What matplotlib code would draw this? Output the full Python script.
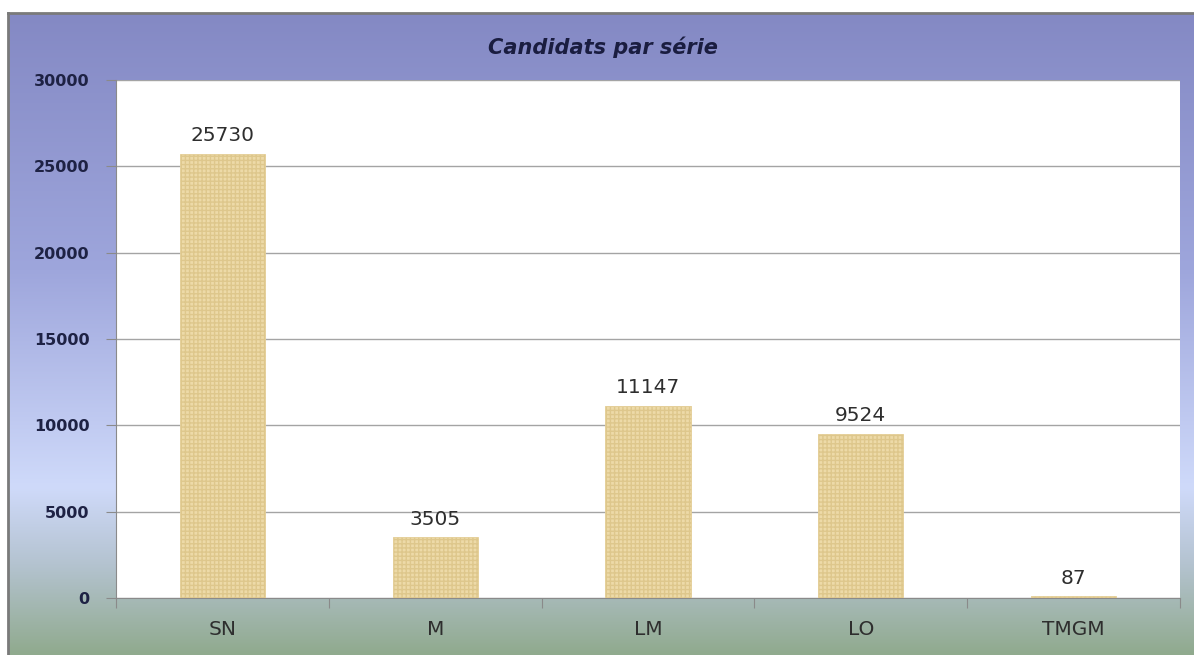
"""
Candidats par série - bar chart
"""

import numpy as np
import matplotlib
matplotlib.use('Agg')
import matplotlib.pyplot as plt
from matplotlib.colors import LinearSegmentedColormap

# Chart data
categories = ['SN', 'M', 'LM', 'LO', 'TMGM']
candidates = [25730, 3505, 11147, 9524, 87]
y_ticks = [0, 5000, 10000, 15000, 20000, 25000, 30000]
title = 'Candidats par série'


def main():
    """Draw the chart and save it"""
    fig = plt.figure(figsize=(11.94, 6.55), dpi=100)
    fig.patch.set_facecolor('white')

    # Gradient background of the chart frame
    bg = fig.add_axes([8 / 1194, 0, 1 - 8 / 1194, 1 - 13 / 655])
    stops = [(0.0, '#8489C4'), (0.40, '#9EA6DC'), (0.74, '#CFDAFA'),
             (0.86, '#B4C3D0'), (1.0, '#90AA8E')]
    cmap = LinearSegmentedColormap.from_list('bg', stops)
    grad = np.linspace(0, 1, 256).reshape(-1, 1)
    bg.imshow(grad, aspect='auto', cmap=cmap, extent=[0, 1, 0, 1])
    bg.set_xticks([])
    bg.set_yticks([])
    for side in ['right', 'bottom']:
        bg.spines[side].set_visible(False)
    for side in ['left', 'top']:
        bg.spines[side].set_color('#7a7a7a')
        bg.spines[side].set_linewidth(2)

    # Plot area
    ax = fig.add_axes([116 / 1194, 1 - 598 / 655, 1064 / 1194, 518 / 655])
    ax.set_facecolor('white')
    x = np.arange(len(categories))
    bars = ax.bar(x, candidates, width=0.4, color='#EDDAA8',
                  edgecolor='#E4CE96', linewidth=0.6, hatch='++++', zorder=3)
    for b in bars:
        b._hatch_color = matplotlib.colors.to_rgba('#DEC78C')
    ax.set_xlim(-0.5, len(categories) - 0.5)
    ax.set_ylim(0, 30000)
    ax.set_yticks(y_ticks)
    ax.set_yticklabels([str(v) for v in y_ticks], fontweight='bold',
                       fontsize=11.5, color='#1e2244')
    ax.yaxis.grid(True, color='#a4a4a4', linewidth=1)
    ax.set_axisbelow(True)
    ax.tick_params(axis='y', length=7, color='#8a8a8a', pad=12)

    # Category labels centered, ticks on the boundaries
    ax.set_xticks(np.arange(len(categories) + 1) - 0.5)
    ax.set_xticklabels([])
    ax.set_xticks(x, minor=True)
    ax.set_xticklabels(categories, minor=True, fontsize=14.5, color='#2e2e2e')
    ax.tick_params(axis='x', which='major', length=7, color='#8a8a8a')
    ax.tick_params(axis='x', which='minor', length=0, pad=16)

    for side in ['top', 'right']:
        ax.spines[side].set_visible(False)
    ax.spines['left'].set_color('#8a8a8a')
    ax.spines['bottom'].set_color('#8a8a8a')

    # Value labels
    for xi, v in zip(x, candidates):
        ax.text(xi, v + 500, str(v), ha='center', va='bottom',
                fontsize=14.5, color='#2e2e2e')

    fig.text(0.505, 1 - 47 / 655, title, ha='center', va='center',
             fontsize=15, fontweight='bold', fontstyle='italic',
             color='#1a1d40', family='DejaVu Sans')

    fig.savefig('out.png', dpi=100, facecolor=fig.get_facecolor())


if __name__ == '__main__':
    main()
